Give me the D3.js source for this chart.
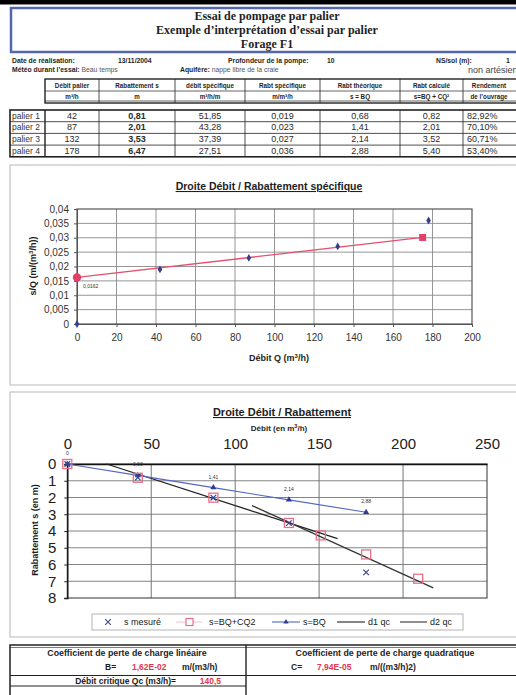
<!DOCTYPE html>
<html>
<head>
<meta charset="utf-8">
<script src="https://cdn.jsdelivr.net/npm/d3@7"></script>
<style>
  body { margin: 0; background: #fff; }
  svg { display: block; font-family: "Liberation Sans", Arial, sans-serif; }
</style>
</head>
<body>
<script>
// ---- Step-drawdown test data (Forage F1) ----
const paliers = ["palier 1", "palier 2", "palier 3", "palier 4"];
const debitQ = [42, 87, 132, 178];                   // m3/h
const rabattement = [0.81, 2.01, 3.53, 6.47];        // m
const debitSpecifique = [51.85, 43.28, 37.39, 27.51];// m3/h/m
const rabtSpecifique = [0.019, 0.023, 0.027, 0.036]; // m/m3/h
const rabtTheorique = [0.68, 1.41, 2.14, 2.88];      // s = BQ
const rabtCalcule = [0.82, 2.01, 3.52, 5.40];        // s = BQ + CQ2
const rendement = [0.8292, 0.7010, 0.6071, 0.5340];

const coefB = 0.0162;
const coefC = 7.94e-5;
const debitCritique = 140.5;

// s/Q fitted line end points (Q, s/Q)
const fitQ = [0, 175];
const fitSQ = [0.0162, 0.0301];

// s = BQ + CQ2 curve points plotted on the drawdown chart
const calcQ = [0, 42, 87, 132, 151, 178, 209];
const calcS = [0, 0.82, 2.01, 3.52, 4.26, 5.40, 6.85];

// the two straight segments whose crossing gives the critical flow
const d1Q = [23.4, 161], d1S = [0, 4.46];
const d2Q = [110, 218], d2S = [2.48, 7.4];

const ticks1X = [0, 20, 40, 60, 80, 100, 120, 140, 160, 180, 200];
const ticks1Y = [0, 0.005, 0.01, 0.015, 0.02, 0.025, 0.03, 0.035, 0.04];
const ticks2X = [0, 50, 100, 150, 200, 250];
const ticks2Y = [0, 1, 2, 3, 4, 5, 6, 7, 8];

const fr = d3.formatLocale({decimal: ",", thousands: " ", grouping: [3], currency: ["", " €"]});
const f2 = fr.format(".2f"), f3 = fr.format(".3f"), fpct = fr.format(".2%");
const fAxis = fr.format(".3~f");
// spreadsheet-style scientific notation: 1,62E-02
function sci(v) {
  const e = Math.floor(Math.log10(Math.abs(v)));
  const m = v / Math.pow(10, e);
  return f2(m) + "E" + (e < 0 ? "-" : "+") + String(Math.abs(e)).padStart(2, "0");
}

const W = 516, H = 695;
const svg = d3.select("body").append("svg").attr("width", W).attr("height", H);
const ink = "#1e1e1e";

// ---- header ----
svg.append("rect").attr("x", 0).attr("y", 0).attr("width", W).attr("height", 4.5).attr("fill", "#000");
svg.append("rect").attr("x", 11).attr("y", 8).attr("width", 520).attr("height", 44)
  .attr("fill", "#fff").attr("stroke", "#5467ad").attr("stroke-width", 2.5);
const titles = ["Essai de pompage par palier", "Exemple d\u2019interprétation d\u2019essai par palier", "Forage F1"];
svg.selectAll("text.ttl").data(titles).join("text").attr("class", "ttl")
  .attr("x", 267).attr("y", (d, i) => 20 + i * 14)
  .attr("text-anchor", "middle").attr("font-family", "Liberation Serif, Times New Roman, serif")
  .attr("font-weight", "bold").attr("font-size", 12).attr("fill", ink).text(d => d);

function txt(x, y, s, o = {}) {
  return svg.append("text").attr("x", x).attr("y", y)
    .attr("font-size", o.size || 6.8).attr("font-weight", o.bold === false ? "normal" : "bold")
    .attr("fill", o.fill || ink).attr("text-anchor", o.anchor || "start").text(s);
}
txt(12, 63, "Date de réalisation:");
txt(118, 63, "13/11/2004");
txt(228, 63, "Profondeur de la pompe:");
txt(327, 63, "10");
txt(436, 63, "NS/sol (m):");
txt(506, 63, "1");
const meteo = txt(12, 72, "Météo durant l\u2019essai: ");
meteo.append("tspan").attr("font-weight", "normal").attr("fill", "#555").text("Beau temps");
const aq = txt(180, 72, "Aquifère: ");
aq.append("tspan").attr("font-weight", "normal").attr("fill", "#555").text("nappe libre de la craie");
txt(468, 73, "non artésien", {size: 9, bold: false, fill: "#444"});

// ---- measurement table ----
const colX = [45, 99, 175, 245, 320, 400, 463, 530];
const head1 = ["Débit palier", "Rabattement s", "débit spécifique", "Rabt spécifique", "Rabt théorique", "Rabt calculé", "Rendement"];
const head2 = ["m³/h", "m", "m³/h/m", "m/m³/h", "s = BQ", "s=BQ + CQ²", "de l\u2019ouvrage"];
const hTop = 79, hMid = 91, hBot = 103;
const tbl = svg.append("g").attr("stroke", "#222").attr("fill", "none");
tbl.append("rect").attr("x", colX[0]).attr("y", hTop).attr("width", colX[7] - colX[0]).attr("height", hBot - hTop).attr("stroke-width", 1.4);
tbl.append("line").attr("x1", colX[0]).attr("x2", colX[7]).attr("y1", hMid).attr("y2", hMid).attr("stroke-width", 0.7);
tbl.append("line").attr("x1", colX[0]).attr("x2", colX[7]).attr("y1", hBot - 2).attr("y2", hBot - 2).attr("stroke-width", 0.7);
colX.slice(1, 7).forEach(x => tbl.append("line").attr("x1", x).attr("x2", x).attr("y1", hTop).attr("y2", hBot).attr("stroke-width", 0.8));
const cellCx = i => i === 6 ? 489 : (colX[i] + colX[i + 1]) / 2;
head1.forEach((h, i) => txt(cellCx(i), 87.5, h, {anchor: "middle", size: 6.3}));
head2.forEach((h, i) => txt(cellCx(i), 99, h, {anchor: "middle", size: 6.3}));

const rTop = 110, rH = 11.7;
const rows = paliers.map((p, i) => [p, d3.format("d")(debitQ[i]), f2(rabattement[i]), f2(debitSpecifique[i]),
  f3(rabtSpecifique[i]), f2(rabtTheorique[i]), f2(rabtCalcule[i]), fpct(rendement[i])]);
tbl.append("rect").attr("x", 10).attr("y", rTop).attr("width", 520).attr("height", rH * paliers.length).attr("stroke-width", 1.6);
paliers.forEach((p, i) => { if (i) tbl.append("line").attr("x1", 10).attr("x2", 530).attr("y1", rTop + i * rH).attr("y2", rTop + i * rH).attr("stroke-width", 0.8); });
colX.slice(0, 7).forEach(x => tbl.append("line").attr("x1", x).attr("x2", x).attr("y1", rTop).attr("y2", rTop + rH * 4).attr("stroke-width", x === 45 ? 1.4 : 0.8));
rows.forEach((r, i) => {
  const y = rTop + i * rH + 8.6;
  txt(12, y, r[0], {size: 8.5, bold: false, fill: "#333"});
  r.slice(1).forEach((v, j) => {
    txt(j === 6 ? 467 : cellCx(j), y, v, {anchor: j === 6 ? "start" : "middle", size: 9, bold: j === 1, fill: "#2a2a2a"});
  });
});

// ---- chart 1 : s/Q versus Q ----
svg.append("rect").attr("x", 10).attr("y", 165).attr("width", 520).attr("height", 220)
  .attr("fill", "none").attr("stroke", "#b8b8b8").attr("stroke-width", 1);
const x1 = d3.scaleLinear().domain([0, 200]).range([77, 472]);
const y1 = d3.scaleLinear().domain([0, 0.04]).range([324, 209]);
const c1 = svg.append("g");
c1.append("g").selectAll("line").data(ticks1X.slice(1, -1)).join("line")
  .attr("x1", d => x1(d)).attr("x2", d => x1(d)).attr("y1", y1(0)).attr("y2", y1(0.04))
  .attr("stroke", "#8a8a8a").attr("stroke-width", 0.9);
c1.append("g").selectAll("line").data(ticks1Y.slice(1, -1)).join("line")
  .attr("x1", x1(0)).attr("x2", x1(200)).attr("y1", d => y1(d)).attr("y2", d => y1(d))
  .attr("stroke", "#8a8a8a").attr("stroke-width", 0.9);
c1.append("rect").attr("x", x1(0)).attr("y", y1(0.04)).attr("width", x1(200) - x1(0)).attr("height", y1(0) - y1(0.04))
  .attr("fill", "none").attr("stroke", "#555").attr("stroke-width", 1.2);
const ax1 = c1.append("g").attr("transform", `translate(0,${y1(0)})`)
  .call(d3.axisBottom(x1).tickValues(ticks1X).tickSize(3).tickPadding(7).tickFormat(d3.format("d")));
const ay1 = c1.append("g").attr("transform", `translate(${x1(0)},0)`)
  .call(d3.axisLeft(y1).tickValues(ticks1Y).tickSize(3).tickPadding(5).tickFormat(d => d === 0 ? "0" : fAxis(d)));
[ax1, ay1].forEach(a => {
  a.select(".domain").attr("stroke", "#555");
  a.selectAll(".tick line").attr("stroke", "#555");
  a.selectAll("text").attr("font-size", 10).attr("fill", "#333").attr("font-family", "Liberation Sans, Arial, sans-serif");
});
c1.append("text").attr("x", 269).attr("y", 190).attr("text-anchor", "middle").attr("font-size", 10.5)
  .attr("font-weight", "bold").attr("text-decoration", "underline").attr("fill", ink)
  .text("Droite Débit / Rabattement spécifique");
const xl1 = c1.append("text").attr("x", 279).attr("y", 361).attr("text-anchor", "middle").attr("font-size", 9)
  .attr("font-weight", "bold").attr("fill", ink).text("Débit Q (m");
xl1.append("tspan").attr("font-size", 6).attr("dy", -3).text("3");
xl1.append("tspan").attr("dy", 3).text("/h)");
const yl1 = c1.append("text").attr("transform", "translate(36,266) rotate(-90)").attr("text-anchor", "middle")
  .attr("font-size", 9).attr("font-weight", "bold").attr("fill", ink).text("s/Q (m/(m");
yl1.append("tspan").attr("font-size", 6).attr("dy", -3).text("3");
yl1.append("tspan").attr("dy", 3).text("/h))");

const sqPts = [[0, 0]].concat(debitQ.map((q, i) => [q, rabtSpecifique[i]]));
c1.append("line").attr("x1", x1(fitQ[0])).attr("y1", y1(fitSQ[0])).attr("x2", x1(fitQ[1])).attr("y2", y1(fitSQ[1]))
  .attr("stroke", "#e6506e").attr("stroke-width", 1.3);
c1.selectAll("path.dia").data(sqPts).join("path").attr("class", "dia")
  .attr("transform", d => `translate(${x1(d[0])},${y1(d[1])})`)
  .attr("d", d3.symbol(d3.symbolDiamond, 18)).attr("fill", "#343c8c");
c1.append("circle").attr("cx", x1(fitQ[0])).attr("cy", y1(fitSQ[0])).attr("r", 4.2).attr("fill", "#e2406a");
c1.append("rect").attr("x", x1(fitQ[1]) - 3.5).attr("y", y1(fitSQ[1]) - 3.5).attr("width", 7).attr("height", 7).attr("fill", "#e2406a");
c1.append("text").attr("x", x1(fitQ[0]) + 6).attr("y", y1(fitSQ[0]) + 11).attr("font-size", 5).attr("fill", "#333")
  .text(fr.format(".4f")(fitSQ[0]));

// ---- chart 2 : drawdown versus Q ----
svg.append("rect").attr("x", 10).attr("y", 392).attr("width", 520).attr("height", 245)
  .attr("fill", "none").attr("stroke", "#b8b8b8").attr("stroke-width", 1);
const x2 = d3.scaleLinear().domain([0, 250]).range([67.3, 487]);
const y2 = d3.scaleLinear().domain([0, 8]).range([464, 598]);
const c2 = svg.append("g");
c2.append("g").selectAll("line").data(ticks2X.slice(1, -1)).join("line")
  .attr("x1", d => x2(d)).attr("x2", d => x2(d)).attr("y1", y2(0)).attr("y2", y2(8))
  .attr("stroke", "#666").attr("stroke-width", 0.9);
c2.append("g").selectAll("line").data(ticks2Y.slice(1, -1)).join("line")
  .attr("x1", x2(0)).attr("x2", x2(250)).attr("y1", d => y2(d)).attr("y2", d => y2(d))
  .attr("stroke", "#777").attr("stroke-width", 0.9);
c2.append("rect").attr("x", x2(0)).attr("y", y2(0)).attr("width", x2(250) - x2(0)).attr("height", y2(8) - y2(0))
  .attr("fill", "none").attr("stroke", "#444").attr("stroke-width", 1.1);
const ax2 = c2.append("g").attr("transform", `translate(0,${y2(0)})`)
  .call(d3.axisTop(x2).tickValues(ticks2X).tickSize(0).tickPadding(15).tickFormat(d3.format("d")));
const ay2 = c2.append("g").attr("transform", `translate(${x2(0)},0)`)
  .call(d3.axisLeft(y2).tickValues(ticks2Y).tickSize(3).tickPadding(8).tickFormat(d3.format("d")));
[ax2, ay2].forEach(a => {
  a.select(".domain").attr("stroke", "#111").attr("stroke-width", 1.4);
  a.selectAll(".tick line").attr("stroke", "#222");
  a.selectAll("text").attr("font-size", 15).attr("fill", "#222").attr("font-family", "Liberation Sans, Arial, sans-serif");
});
c2.append("text").attr("x", 282).attr("y", 416).attr("text-anchor", "middle").attr("font-size", 11)
  .attr("font-weight", "bold").attr("text-decoration", "underline").attr("fill", ink)
  .text("Droite Débit / Rabattement");
const xl2 = c2.append("text").attr("x", 279).attr("y", 431).attr("text-anchor", "middle").attr("font-size", 8)
  .attr("font-weight", "bold").attr("fill", ink).text("Débit (en m");
xl2.append("tspan").attr("font-size", 5.5).attr("dy", -3).text("3");
xl2.append("tspan").attr("dy", 3).text("/h)");
c2.append("text").attr("transform", "translate(38,530) rotate(-90)").attr("text-anchor", "middle")
  .attr("font-size", 9).attr("font-weight", "bold").attr("fill", ink).text("Rabattement s (en m)");

const lineGen = d3.line().x(d => x2(d[0])).y(d => y2(d[1]));
const d1 = d1Q.map((q, i) => [q, d1S[i]]);
const d2 = d2Q.map((q, i) => [q, d2S[i]]);
c2.append("path").attr("d", lineGen(d1)).attr("fill", "none").attr("stroke", "#222").attr("stroke-width", 1.3);
c2.append("path").attr("d", lineGen(d2)).attr("fill", "none").attr("stroke", "#333").attr("stroke-width", 1.3);

const bqPts = [[0, 0]].concat(debitQ.map((q, i) => [q, rabtTheorique[i]]));
c2.append("path").attr("d", lineGen(bqPts)).attr("fill", "none").attr("stroke", "#5367c4").attr("stroke-width", 1.1);
c2.selectAll("path.tri").data(bqPts).join("path").attr("class", "tri")
  .attr("transform", d => `translate(${x2(d[0])},${y2(d[1])})`)
  .attr("d", d3.symbol(d3.symbolTriangle, 16)).attr("fill", "#2e3a96");
c2.selectAll("text.bq").data(bqPts).join("text").attr("class", "bq")
  .attr("x", d => x2(d[0])).attr("y", d => y2(d[1]) - 9).attr("text-anchor", "middle")
  .attr("font-size", 5).attr("fill", "#333").text(d => d[1] === 0 ? "0" : f2(d[1]));

const calcPts = calcQ.map((q, i) => [q, calcS[i]]);
c2.selectAll("rect.sq").data(calcPts).join("rect").attr("class", "sq")
  .attr("x", d => x2(d[0]) - 4.5).attr("y", d => y2(d[1]) - 4.5).attr("width", 9).attr("height", 9)
  .attr("fill", "none").attr("stroke", "#ea6f88").attr("stroke-width", 1.3);
const mesPts = [[0, 0]].concat(debitQ.map((q, i) => [q, rabattement[i]]));
c2.selectAll("path.x").data(mesPts).join("path").attr("class", "x")
  .attr("transform", d => `translate(${x2(d[0])},${y2(d[1])})`)
  .attr("d", d3.symbol(d3.symbolX, 22)).attr("fill", "none").attr("stroke", "#3a4596").attr("stroke-width", 1.2);

// legend
const lg = c2.append("g");
lg.append("rect").attr("x", 92).attr("y", 614).attr("width", 371).attr("height", 16)
  .attr("fill", "#fff").attr("stroke", "#aaa").attr("stroke-width", 0.9);
const ly = 622;
lg.append("path").attr("transform", `translate(108,${ly})`).attr("d", d3.symbol(d3.symbolX, 22))
  .attr("stroke", "#3a4596").attr("stroke-width", 1.1).attr("fill", "none");
lg.append("line").attr("x1", 176).attr("x2", 202).attr("y1", ly).attr("y2", ly).attr("stroke", "#f3c0cb").attr("stroke-width", 1);
lg.append("rect").attr("x", 186).attr("y", ly - 3.5).attr("width", 7).attr("height", 7).attr("fill", "#fff").attr("stroke", "#ea6f88").attr("stroke-width", 1.2);
lg.append("line").attr("x1", 272).attr("x2", 300).attr("y1", ly).attr("y2", ly).attr("stroke", "#5367c4").attr("stroke-width", 1.1);
lg.append("path").attr("transform", `translate(286,${ly})`).attr("d", d3.symbol(d3.symbolTriangle, 12)).attr("fill", "#2e3a96");
lg.append("line").attr("x1", 337).attr("x2", 365).attr("y1", ly).attr("y2", ly).attr("stroke", "#222").attr("stroke-width", 1.1);
lg.append("line").attr("x1", 400).attr("x2", 427).attr("y1", ly).attr("y2", ly).attr("stroke", "#333").attr("stroke-width", 1.1);
[["s mesuré", 124], ["s=BQ+CQ2", 209], ["s=BQ", 303], ["d1 qc", 368], ["d2 qc", 430]].forEach(([t, x]) =>
  lg.append("text").attr("x", x).attr("y", ly + 3.2).attr("font-size", 9).attr("fill", "#222").text(t));

// ---- coefficient table ----
const bt = svg.append("g").attr("stroke", "#222").attr("fill", "none");
bt.append("rect").attr("x", 10).attr("y", 645).attr("width", 520).attr("height", 60).attr("stroke-width", 1.5);
bt.append("line").attr("x1", 10).attr("x2", 530).attr("y1", 647.5).attr("y2", 647.5).attr("stroke-width", 0.6);
bt.append("line").attr("x1", 246).attr("x2", 246).attr("y1", 645).attr("y2", 705).attr("stroke-width", 1.4);
bt.append("line").attr("x1", 10).attr("x2", 530).attr("y1", 675.5).attr("y2", 675.5).attr("stroke-width", 1);
bt.append("line").attr("x1", 10).attr("x2", 246).attr("y1", 686).attr("y2", 686).attr("stroke-width", 1);
const red = "#e3364f";
txt(127, 656, "Coefficient de perte de charge linéaire", {anchor: "middle", size: 8.8});
txt(105, 670, "B=", {size: 8.5});
txt(132, 670, sci(coefB), {size: 8.5, fill: red});
txt(182, 670, "m/(m3/h)", {size: 8.5});
txt(176, 683.5, "Débit critique Qc (m3/h)=", {anchor: "end", size: 8.5});
txt(221, 683.5, fr.format(".1f")(debitCritique), {anchor: "end", size: 8.5, fill: red});
txt(385, 656, "Coefficient de perte de charge quadratique", {anchor: "middle", size: 8.8});
txt(291, 670, "C=", {size: 8.5});
txt(317, 670, sci(coefC), {size: 8.5, fill: red});
txt(370, 670, "m/((m3/h)2)", {size: 8.5});
</script>
</body>
</html>
